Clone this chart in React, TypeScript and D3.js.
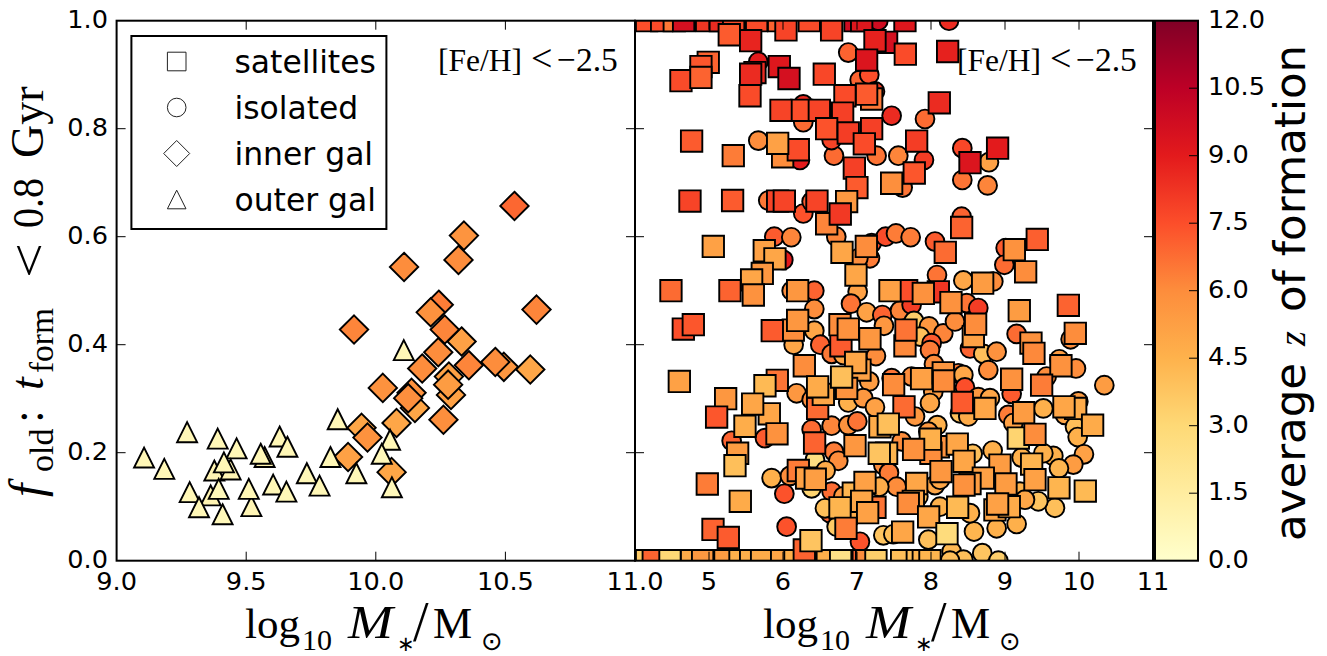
import React from "react";
import * as d3 from "d3";

type Point = [number, number, number]; // log mass, f_old, mean z of formation

const leftMassTicks = [9.0, 9.5, 10.0, 10.5, 11.0];
const rightMassTicks = [5, 6, 7, 8, 9, 10, 11];
const fracTicks = [0.0, 0.2, 0.4, 0.6, 0.8, 1.0];
const zTicks = [0, 1.5, 3, 4.5, 6, 7.5, 9, 10.5, 12];
const zColors = ["#ffffcc", "#ffeda0", "#fed976", "#feb24c", "#fd8d3c", "#fc4e2a", "#e31a1c", "#bd0026", "#800026"];

const innerGal: Point[] = [
  [10.535, 0.657, 6.9], [10.34, 0.602, 5.7], [10.319, 0.557, 6.0], [10.109, 0.544, 6.0], [10.243, 0.474, 6.4],
  [10.212, 0.46, 5.8], [10.62, 0.465, 6.2], [9.916, 0.428, 6.2], [10.331, 0.406, 5.2], [10.266, 0.428, 6.2],
  [10.494, 0.359, 5.6], [10.241, 0.386, 6.0], [10.179, 0.356, 6.0], [10.359, 0.362, 6.2], [10.461, 0.368, 6.0],
  [10.596, 0.354, 5.0], [10.29, 0.307, 5.2], [10.282, 0.341, 5.2], [10.279, 0.326, 5.4], [10.027, 0.32, 5.8],
  [10.151, 0.283, 5.0], [10.138, 0.311, 5.8], [10.125, 0.301, 5.9], [10.08, 0.255, 5.0], [10.261, 0.261, 5.9],
  [9.945, 0.246, 5.0], [9.968, 0.228, 5.8], [9.893, 0.192, 5.2], [10.061, 0.164, 5.0],
];

const outerGal: Point[] = [
  [9.106, 0.191, 0.7], [9.184, 0.17, 0.7], [9.272, 0.238, 0.7], [9.39, 0.226, 0.7], [9.463, 0.208, 0.7],
  [9.377, 0.167, 0.9], [9.44, 0.169, 0.8], [9.414, 0.182, 0.7], [9.363, 0.121, 0.9], [9.282, 0.127, 0.7],
  [9.394, 0.133, 0.6], [9.318, 0.099, 0.7], [9.409, 0.086, 0.6], [9.52, 0.101, 0.8], [9.51, 0.133, 0.7],
  [9.571, 0.192, 1.0], [9.556, 0.198, 0.7], [9.629, 0.23, 0.7], [9.659, 0.211, 0.7], [9.604, 0.141, 0.7],
  [9.655, 0.128, 0.7], [9.734, 0.162, 0.7], [9.783, 0.139, 0.7], [9.853, 0.262, 0.7], [9.825, 0.192, 0.7],
  [9.925, 0.162, 0.7], [10.055, 0.224, 0.7], [10.023, 0.198, 0.6], [10.062, 0.136, 0.6], [10.108, 0.39, 0.7],
];

const isolated: Point[] = [
  [8.243, 1.0, 8.5], [5.666, 0.924, 9.0], [6.882, 0.941, 7.0], [6.274, 0.845, 8.5], [6.274, 0.812, 6.8],
  [7.036, 0.89, 7.0], [7.166, 0.9, 7.5], [7.243, 0.869, 8.0], [7.468, 0.824, 8.5], [7.919, 0.818, 6.8],
  [5.666, 0.778, 6.0], [6.689, 0.75, 6.8], [7.265, 0.75, 6.6], [7.558, 0.75, 6.2], [7.905, 0.742, 8.0],
  [8.423, 0.764, 7.7], [8.783, 0.738, 5.2], [8.423, 0.705, 6.6], [8.765, 0.695, 6.2], [7.617, 0.691, 6.6],
  [6.229, 0.742, 9.0], [5.801, 0.667, 6.5], [6.274, 0.643, 7.4], [6.387, 0.665, 7.2], [5.882, 0.6, 7.2],
  [6.112, 0.599, 6.2], [6.72, 0.6, 6.2], [7.198, 0.588, 7.5], [7.387, 0.6, 7.6], [7.527, 0.606, 6.4],
  [7.725, 0.599, 6.4], [8.054, 0.591, 7.2], [8.414, 0.637, 7.0], [9.009, 0.579, 7.2], [8.991, 0.548, 6.8],
  [8.081, 0.529, 6.6], [8.437, 0.519, 5.0], [8.842, 0.517, 6.0], [7.175, 0.56, 6.4], [7.018, 0.56, 6.0],
  [6.004, 0.557, 9.0], [6.657, 0.779, 7.8], [7.085, 1.0, 9.8], [7.198, 1.0, 9.8], [7.288, 1.0, 9.8],
  [6.423, 0.5, 7.0], [6.117, 0.5, 6.0], [7.009, 0.498, 5.2], [6.423, 0.466, 6.0], [6.919, 0.476, 6.6],
  [7.13, 0.46, 5.2], [7.342, 0.455, 7.0], [7.581, 0.463, 6.2], [7.738, 0.474, 8.0], [7.77, 0.444, 3.5],
  [7.364, 0.435, 5.6], [6.423, 0.426, 5.0], [6.144, 0.4, 5.0], [6.504, 0.4, 7.0], [6.657, 0.383, 6.5],
  [6.815, 0.381, 5.0], [7.256, 0.379, 6.0], [7.153, 0.412, 7.0], [7.973, 0.434, 5.6], [8.166, 0.421, 6.2],
  [7.851, 0.415, 4.0], [8.324, 0.443, 6.0], [8.482, 0.477, 6.6], [8.639, 0.468, 8.0], [8.009, 0.403, 7.2],
  [7.986, 0.39, 6.4], [8.527, 0.393, 7.0], [8.707, 0.383, 4.0], [8.887, 0.387, 5.8], [8.04, 0.364, 6.0],
  [8.774, 0.353, 6.0], [8.369, 0.347, 6.4], [8.437, 0.344, 5.0], [7.468, 0.338, 6.6], [7.738, 0.341, 6.0],
  [9.157, 0.42, 6.8], [9.887, 0.41, 6.0], [9.734, 0.373, 5.4], [9.959, 0.356, 6.0], [9.563, 0.341, 6.0],
  [10.342, 0.325, 5.4], [9.09, 0.309, 7.2], [7.166, 0.332, 5.4], [6.184, 0.31, 5.6], [6.387, 0.298, 6.0],
  [6.882, 0.293, 4.6], [7.085, 0.301, 5.6], [7.243, 0.284, 5.2], [8.031, 0.313, 5.4], [7.986, 0.292, 5.0],
  [8.459, 0.321, 7.5], [8.639, 0.303, 5.6], [8.797, 0.301, 5.0], [7.784, 0.267, 5.6], [8.391, 0.273, 4.0],
  [8.504, 0.267, 4.8], [9.518, 0.282, 4.6], [9.045, 0.27, 6.4], [9.112, 0.255, 5.2], [9.81, 0.27, 5.0],
  [9.991, 0.295, 5.4], [9.946, 0.248, 4.0], [9.982, 0.229, 4.6], [10.067, 0.197, 5.2], [9.923, 0.178, 5.4],
  [9.653, 0.194, 4.6], [9.729, 0.171, 4.4], [9.518, 0.199, 4.6], [9.225, 0.191, 4.6], [8.833, 0.204, 4.6],
  [8.563, 0.198, 4.0], [8.085, 0.251, 4.6], [7.964, 0.239, 5.5], [6.387, 0.243, 6.8], [6.657, 0.25, 6.2],
  [6.882, 0.251, 5.8], [7.004, 0.258, 6.6], [7.603, 0.221, 6.0], [5.306, 0.222, 7.0], [5.756, 0.227, 7.2],
  [6.689, 0.202, 6.4], [6.747, 0.185, 6.0], [6.432, 0.187, 2.6], [6.576, 0.167, 4.8], [5.846, 0.153, 4.6],
  [6.094, 0.157, 6.0], [6.018, 0.124, 7.4], [6.387, 0.134, 3.2], [7.356, 0.177, 6.0], [7.432, 0.163, 6.4],
  [7.536, 0.137, 6.0], [6.657, 0.128, 6.8], [7.301, 0.137, 4.8], [8.054, 0.14, 5.0], [8.121, 0.15, 5.0],
  [6.815, 0.119, 5.5], [6.635, 0.088, 7.0], [6.567, 0.097, 4.0], [6.725, 0.063, 3.6], [6.049, 0.063, 7.4],
  [6.905, 0.079, 4.8], [7.04, 0.035, 7.4], [7.356, 0.047, 3.8], [7.491, 0.049, 4.0], [7.964, 0.039, 4.0],
  [8.581, 0.054, 4.4], [8.121, 0.1, 4.6], [8.527, 0.088, 4.6], [8.887, 0.06, 4.6], [9.157, 0.068, 4.6],
  [9.675, 0.098, 4.0], [9.45, 0.11, 3.8], [9.202, 0.128, 4.5], [9.27, 0.113, 5.0], [8.279, 0.017, 4.2],
  [8.693, 0.014, 3.8], [8.91, 0.0, 3.4], [8.437, 0.002, 4.0], [8.257, 0.0, 4.0], [7.829, 0.119, 4.0],
];

// low-mass rows pinned to exactly 0 and 1, drawn first
const satellitesEdge: Point[] = [
  [4.157, 0, 3.5], [4.247, 0, 7.0], [4.473, 0, 3.0], [4.765, 0, 4.8], [4.914, 0, 5.5], [5.216, 0, 5.4],
  [5.419, 0, 4.6], [5.563, 0, 4.6], [5.711, 0, 4.8], [5.982, 0, 5.0], [6.162, 0, 4.6], [6.306, 0, 4.0],
  [6.599, 0, 4.6], [6.779, 0, 2.4], [7.085, 0, 7.0], [7.13, 0, 6.0], [7.256, 0, 3.4], [7.603, 0, 4.0],
  [7.815, 0, 4.0], [7.896, 0, 4.4], [7.986, 0, 4.4],
  [4.157, 1, 7.5], [4.36, 1, 7.6], [4.531, 1, 6.5], [4.657, 1, 9.6], [4.968, 1, 8.2], [5.153, 1, 8.5],
  [5.333, 1, 7.6], [5.644, 1, 7.6], [5.941, 1, 7.0], [6.355, 1, 7.6], [6.973, 1, 9.8], [7.063, 1, 9.2],
  [7.648, 1, 9.2],
];

const satellites: Point[] = [
  [6.04, 0.983, 7.8], [6.657, 0.983, 7.8], [5.274, 0.974, 7.2], [5.563, 0.963, 8.7], [7.4, 0.96, 9.6],
  [7.243, 0.963, 8.8], [7.653, 0.938, 7.6], [8.225, 0.943, 8.8], [7.13, 0.927, 9.3], [4.99, 0.923, 7.0],
  [4.891, 0.915, 7.3], [4.621, 0.889, 7.6], [4.891, 0.895, 7.0], [5.621, 0.904, 8.5], [5.563, 0.901, 8.5],
  [5.95, 0.915, 9.2], [6.081, 0.893, 9.6], [6.558, 0.901, 7.7], [5.554, 0.861, 7.6], [6.837, 0.861, 7.6],
  [7.198, 0.855, 6.5], [7.13, 0.864, 7.2], [8.112, 0.848, 8.5], [6.252, 0.834, 7.5], [5.973, 0.834, 7.8],
  [6.491, 0.834, 7.8], [6.806, 0.829, 7.9], [6.59, 0.8, 7.4], [6.882, 0.792, 8.0], [7.198, 0.8, 7.9],
  [7.099, 0.772, 7.6], [7.806, 0.777, 8.0], [4.765, 0.777, 7.2], [5.328, 0.75, 6.4], [5.995, 0.748, 6.0],
  [6.207, 0.761, 7.6], [5.928, 0.773, 5.2], [6.964, 0.727, 7.9], [8.9, 0.764, 9.0], [8.527, 0.737, 9.3],
  [7.468, 0.699, 5.9], [7.774, 0.718, 7.3], [6.999, 0.691, 7.2], [4.743, 0.666, 7.8], [5.319, 0.667, 7.2],
  [5.928, 0.666, 7.8], [6.018, 0.666, 7.8], [6.86, 0.665, 5.5], [6.459, 0.666, 7.8], [6.59, 0.624, 6.2],
  [6.774, 0.642, 8.1], [8.414, 0.617, 7.0], [9.436, 0.595, 7.1], [5.058, 0.582, 5.2], [5.747, 0.574, 5.2],
  [5.891, 0.559, 5.0], [6.797, 0.571, 5.0], [7.126, 0.582, 6.0], [8.193, 0.571, 6.8], [9.126, 0.576, 5.8],
  [9.279, 0.535, 6.0], [6.986, 0.529, 5.0], [5.72, 0.532, 5.6], [5.576, 0.52, 5.0], [4.486, 0.5, 6.8],
  [5.283, 0.5, 7.0], [5.599, 0.492, 5.8], [6.198, 0.5, 5.6], [7.671, 0.5, 7.5], [8.099, 0.498, 8.2],
  [7.446, 0.5, 5.2], [7.896, 0.495, 5.8], [8.27, 0.478, 5.8], [8.698, 0.514, 5.4], [9.193, 0.463, 5.4],
  [9.856, 0.473, 7.0], [8.572, 0.415, 5.2], [8.603, 0.438, 6.0], [9.95, 0.421, 6.0], [9.351, 0.403, 5.8],
  [9.391, 0.384, 6.1], [6.139, 0.427, 6.0], [6.198, 0.445, 5.6], [4.653, 0.429, 7.5], [4.788, 0.437, 7.3],
  [5.855, 0.426, 7.2], [6.783, 0.398, 7.2], [6.77, 0.437, 6.0], [6.882, 0.429, 5.8], [7.175, 0.411, 5.6],
  [7.648, 0.398, 6.1], [7.662, 0.427, 6.6], [6.288, 0.361, 6.0], [9.756, 0.361, 5.8], [7.04, 0.353, 5.2],
  [6.982, 0.367, 5.0], [4.599, 0.332, 5.2], [5.923, 0.334, 6.6], [5.756, 0.324, 4.2], [6.468, 0.282, 6.8],
  [6.545, 0.308, 5.0], [6.86, 0.319, 5.8], [6.468, 0.322, 4.8], [6.792, 0.34, 4.0], [5.815, 0.272, 5.0],
  [5.225, 0.3, 5.6], [5.59, 0.29, 5.0], [5.103, 0.266, 7.3], [5.486, 0.249, 4.7], [5.919, 0.235, 5.8],
  [6.427, 0.218, 7.0], [7.495, 0.326, 6.0], [7.873, 0.337, 5.2], [8.166, 0.348, 5.6], [8.171, 0.333, 6.0],
  [9.09, 0.336, 5.8], [9.495, 0.325, 6.4], [8.423, 0.293, 7.2], [8.729, 0.282, 5.0], [7.635, 0.285, 6.8],
  [9.252, 0.274, 5.4], [9.955, 0.282, 4.8], [9.797, 0.285, 5.0], [10.184, 0.251, 4.8], [9.18, 0.227, 3.2],
  [9.405, 0.234, 6.0], [7.31, 0.248, 4.8], [7.423, 0.253, 4.0], [6.973, 0.213, 5.6], [8.099, 0.211, 5.8],
  [7.999, 0.199, 6.0], [7.991, 0.225, 4.6], [7.4, 0.199, 4.4], [7.301, 0.199, 3.8], [7.765, 0.206, 5.8],
  [8.355, 0.216, 5.0], [8.446, 0.184, 5.0], [8.932, 0.177, 5.4], [9.36, 0.179, 4.4], [5.387, 0.199, 5.4],
  [5.351, 0.176, 4.0], [6.207, 0.167, 6.4], [6.319, 0.153, 5.2], [6.436, 0.151, 5.3], [4.977, 0.142, 6.4],
  [8.135, 0.165, 5.6], [8.707, 0.153, 5.2], [8.527, 0.143, 5.4], [8.446, 0.14, 5.8], [9.013, 0.142, 5.4],
  [9.405, 0.15, 5.2], [9.729, 0.135, 4.4], [10.085, 0.129, 4.2], [7.806, 0.143, 5.0], [6.95, 0.125, 4.4],
  [7.108, 0.145, 5.2], [5.423, 0.11, 4.8], [7.243, 0.099, 6.6], [7.063, 0.11, 5.0], [6.77, 0.098, 4.4],
  [7.144, 0.089, 5.2], [7.761, 0.11, 5.0], [7.693, 0.106, 6.0], [8.36, 0.099, 4.2], [7.968, 0.081, 5.0],
  [8.864, 0.094, 5.0], [9.058, 0.1, 4.8], [8.9, 0.105, 5.2], [5.054, 0.058, 7.0], [5.261, 0.043, 7.2],
  [6.851, 0.06, 6.4], [7.617, 0.053, 5.0], [8.216, 0.05, 2.8], [6.288, 0.02, 7.0], [6.378, 0.037, 3.8],
];

const legendLabels = ["satellites", "isolated", "inner gal", "outer gal"];

const WIDTH = 1327;
const HEIGHT = 656;
const TOP = 20.7;
const BOTTOM = 560.7;
const LEFT_X0 = 116.6;
const SPLIT = 635;
const RIGHT_X1 = 1153;
const BAR_X0 = 1155;
const BAR_X1 = 1198;

const sans = "'DejaVu Sans', sans-serif";
const serif = "'Liberation Serif', serif";

const yScale = d3.scaleLinear().domain([0, 1]).range([BOTTOM, TOP]);
const xLeft = d3.scaleLinear().domain([9, 11]).range([LEFT_X0, SPLIT]);
const xRight = d3.scaleLinear().domain([4, 11]).range([SPLIT, RIGHT_X1]);
const barY = d3.scaleLinear().domain([0, 12]).range([BOTTOM, TOP]);
const color = d3
  .scaleLinear<string>()
  .domain(zColors.map((_, i) => i * 1.5))
  .range(zColors)
  .interpolate(d3.interpolateRgb);

const squarePath = (r: number) => d3.line()([[-r, -r], [r, -r], [r, r], [-r, r]]) + "Z";
const diamondPath = (r: number) => d3.line()([[0, -r], [r, 0], [0, r], [-r, 0]]) + "Z";
const trianglePath = (r: number) => d3.line()([[0, -r], [r, r], [-r, r]]) + "Z";
const circlePath = (r: number) => d3.symbol().type(d3.symbolCircle).size(Math.PI * r * r)() as string;

function Marks({ data, x, shape }: { data: Point[]; x: d3.ScaleLinear<number, number>; shape: string }) {
  return (
    <g stroke="#000" strokeWidth={1.9} strokeLinejoin="miter">
      {data.map((p, i) => (
        <path key={i} d={shape} fill={color(p[2])} transform={`translate(${x(p[0])},${yScale(p[1])})`} />
      ))}
    </g>
  );
}

function MassLabel({ x }: { x: number }) {
  return (
    <g fontFamily={serif} fill="#000">
      <text x={x} y={638} fontSize={43}>log</text>
      <text x={x + 57} y={649.5} fontSize={30}>10</text>
      <text x={x + 103} y={638} fontSize={46} fontStyle="italic" textLength={45} lengthAdjust="spacingAndGlyphs">M</text>
      <text x={x + 152} y={650.5} fontSize={21} fontFamily={sans}>∗</text>
      <text x={x + 168} y={641} fontSize={56}>/</text>
      <text x={x + 188} y={638} fontSize={44}>M</text>
      <text x={x + 236} y={649.8} fontSize={26} fontFamily={sans}>⊙</text>
    </g>
  );
}

function FeH({ x }: { x: number }) {
  return (
    <g fontFamily={serif} fill="#000">
      <text x={x} y={71} fontSize={31.5}>[Fe/H]</text>
      <text x={x + 93} y={71} fontSize={38}>&lt;</text>
      <text x={x + 119} y={71} fontSize={33.5}>−2.5</text>
    </g>
  );
}

export default function App() {
  const legendY = [61.5, 107.5, 153.5, 199.5];
  const legendShapes = [squarePath(9.3), circlePath(9.3), diamondPath(13), trianglePath(9.3)];
  return (
    <svg width={WIDTH} height={HEIGHT} style={{ position: "absolute", left: 0, top: 0, background: "#fff" }}>
      <defs>
        <clipPath id="left-clip">
          <rect x={LEFT_X0} y={TOP} width={SPLIT - LEFT_X0} height={BOTTOM - TOP} />
        </clipPath>
        <clipPath id="right-clip">
          <rect x={SPLIT} y={TOP} width={RIGHT_X1 - SPLIT} height={BOTTOM - TOP} />
        </clipPath>
        <linearGradient id="z-bar" x1="0" x2="0" y1="1" y2="0">
          {zColors.map((c, i) => (
            <stop key={c} offset={i / (zColors.length - 1)} stopColor={c} />
          ))}
        </linearGradient>
      </defs>

      <g clipPath="url(#left-clip)">
        <Marks data={innerGal} x={xLeft} shape={diamondPath(14.2)} />
        <Marks data={outerGal} x={xLeft} shape={trianglePath(10)} />
      </g>
      <g clipPath="url(#right-clip)">
        <Marks data={isolated} x={xRight} shape={circlePath(9.4)} />
        <Marks data={satellitesEdge} x={xRight} shape={squarePath(10.7)} />
        <Marks data={satellites} x={xRight} shape={squarePath(10.7)} />
      </g>

      <FeH x={438} />
      <FeH x={957} />

      {/* legend */}
      <rect x={131.4} y={36} width={255} height={193} fill="#fff" stroke="#000" strokeWidth={2} />
      {legendLabels.map((label, i) => (
        <g key={label}>
          <path d={legendShapes[i]} transform={`translate(176.7,${legendY[i]})`} fill="#fff" stroke="#222" strokeWidth={1} />
          <text x={234.5} y={legendY[i] + 11} fontFamily={sans} fontSize={31.4} fill="#000">
            {label}
          </text>
        </g>
      ))}

      {/* axes ticks */}
      <g stroke="#000" strokeWidth={1}>
        {leftMassTicks.slice(1, -1).map((t) => (
          <g key={t}>
            <line x1={xLeft(t)} x2={xLeft(t)} y1={BOTTOM} y2={BOTTOM - 9} />
            <line x1={xLeft(t)} x2={xLeft(t)} y1={TOP} y2={TOP + 9} />
          </g>
        ))}
        {rightMassTicks.slice(0, -1).map((t) => (
          <g key={t}>
            <line x1={xRight(t)} x2={xRight(t)} y1={BOTTOM} y2={BOTTOM - 9} />
            <line x1={xRight(t)} x2={xRight(t)} y1={TOP} y2={TOP + 9} />
          </g>
        ))}
        {fracTicks.slice(1, -1).map((t) => (
          <g key={t}>
            <line x1={LEFT_X0} x2={LEFT_X0 + 9} y1={yScale(t)} y2={yScale(t)} />
            <line x1={SPLIT - 9} x2={SPLIT + 9} y1={yScale(t)} y2={yScale(t)} />
            <line x1={RIGHT_X1 - 9} x2={RIGHT_X1} y1={yScale(t)} y2={yScale(t)} />
          </g>
        ))}
      </g>

      {/* spines */}
      <g fill="none" stroke="#000" strokeWidth={2}>
        <rect x={LEFT_X0} y={TOP} width={SPLIT - LEFT_X0} height={BOTTOM - TOP} />
        <rect x={SPLIT} y={TOP} width={RIGHT_X1 - SPLIT} height={BOTTOM - TOP} />
      </g>

      {/* tick labels */}
      <g fontFamily={sans} fontSize={25.6} fill="#000" textAnchor="middle">
        {leftMassTicks.map((t) => (
          <text key={t} x={xLeft(t)} y={590}>{t.toFixed(1)}</text>
        ))}
        {rightMassTicks.map((t) => (
          <text key={t} x={xRight(t)} y={590}>{t}</text>
        ))}
      </g>
      <g fontFamily={sans} fontSize={25.6} fill="#000" textAnchor="end">
        {fracTicks.map((t) => (
          <text key={t} x={108} y={yScale(t) + 7}>{t.toFixed(1)}</text>
        ))}
      </g>

      {/* colour bar */}
      <rect x={BAR_X0} y={TOP} width={BAR_X1 - BAR_X0} height={BOTTOM - TOP} fill="url(#z-bar)" stroke="#000" strokeWidth={2} />
      <g stroke="#000" strokeWidth={1}>
        {zTicks.slice(1, -1).map((t) => (
          <line key={t} x1={BAR_X1 - 9} x2={BAR_X1} y1={barY(t)} y2={barY(t)} />
        ))}
      </g>
      <g fontFamily={sans} fontSize={25.6} fill="#000">
        {zTicks.map((t) => (
          <text key={t} x={1208} y={barY(t) + 7}>{t.toFixed(1)}</text>
        ))}
      </g>

      {/* axis titles */}
      <MassLabel x={245} />
      <MassLabel x={763} />
      <g transform="translate(43,495) rotate(-90)" fontFamily={serif} fill="#000">
        <text x={-2} y={0} fontSize={48} fontStyle="italic">f</text>
        <text x={23} y={10} fontSize={34}>old</text>
        <text x={72} y={0} fontSize={46}>:</text>
        <text x={105} y={0} fontSize={46} fontStyle="italic">t</text>
        <text x={122} y={10} fontSize={33.4}>form</text>
        <text x={217} y={3} fontSize={50} textLength={35} lengthAdjust="spacingAndGlyphs">&lt;</text>
        <text x={267} y={0} fontSize={44} textLength={50} lengthAdjust="spacingAndGlyphs">0.8</text>
        <text x={337} y={0} fontSize={46}>Gyr</text>
      </g>
      <g transform="translate(1305,541) rotate(-90)" fontFamily={sans} fontSize={43.5} fill="#000">
        <text x={0} y={0}>average</text>
        <text x={195} y={0} fontFamily={serif} fontStyle="italic" fontSize={38}>z</text>
        <text x={229} y={0}>of formation</text>
      </g>
    </svg>
  );
}
